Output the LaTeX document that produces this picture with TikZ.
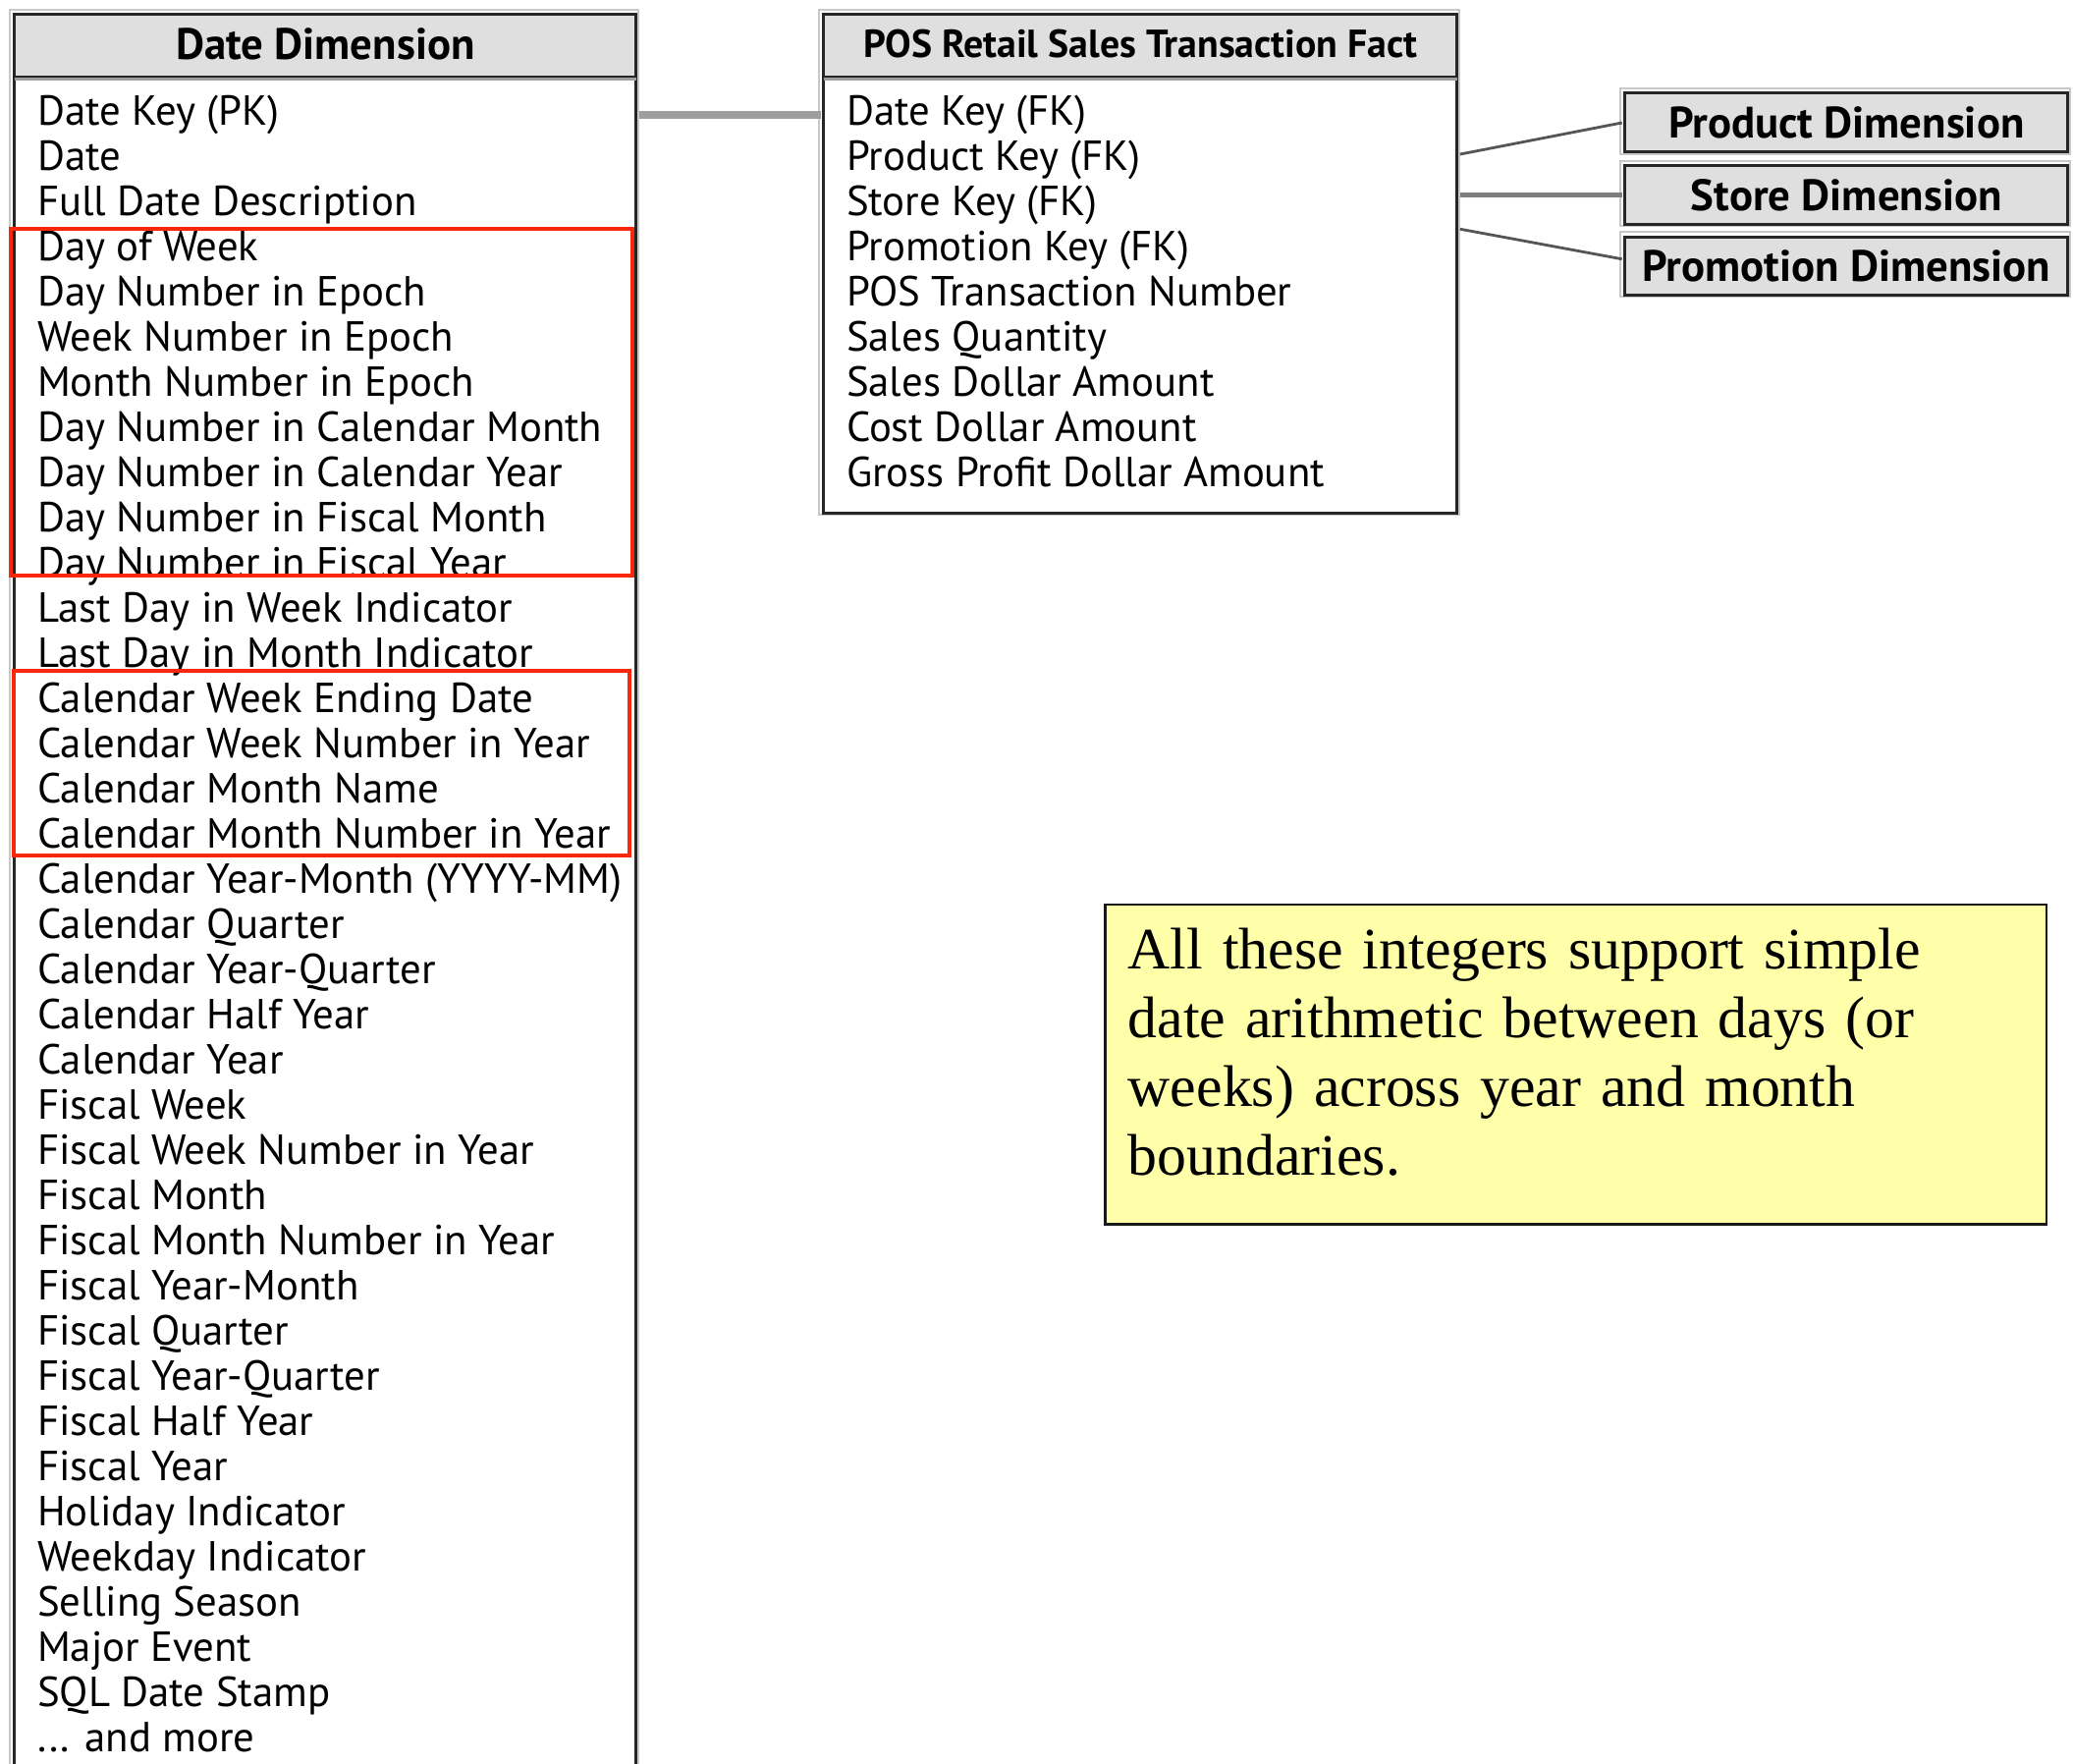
\documentclass[tikz,border=0pt]{standalone}
\usepackage{fontspec}
\usetikzlibrary{calc}
\newfontfamily\uifont{PT Sans}
\newfontfamily\notefont{Liberation Serif}
\definecolor{headgray}{RGB}{223,223,223}
\definecolor{halogray}{RGB}{200,200,200}
\definecolor{linkgray}{RGB}{158,158,158}
\definecolor{thingray}{RGB}{85,85,85}
\definecolor{hlred}{RGB}{250,40,10}
\definecolor{noteyellow}{RGB}{255,255,170}
\newcommand\andmoreitem{... and more}
\begin{document}
\begin{tikzpicture}[x=0.6732pt, y=-0.6732pt,
  box/.style={draw=black!85, line width=1.5pt, rectangle, inner sep=0pt, anchor=north west},
  headbox/.style={box, fill=headgray, font=\uifont\bfseries\fontsize{22.4}{23}\selectfont},
  bodybox/.style={box, fill=white},
  headtext/.style={inner sep=0pt, yshift=1pt},
  field/.style={anchor=base west, inner sep=0pt, font=\uifont\fontsize{21.4}{23}\selectfont},
  halo/.style={draw=halogray, line width=1pt},
  datelink/.style={draw=linkgray, line width=3.8pt, shorten <=0.8pt, shorten >=0.8pt},
  midlink/.style={draw=linkgray!80!black, line width=2.2pt, shorten <=0.8pt, shorten >=0.8pt},
  thinlink/.style={draw=thingray, line width=1.4pt, shorten <=0.8pt, shorten >=0.8pt},
  highlight/.style={draw=hlred, line width=2pt},
  notebox/.style={draw=black!90, line width=1.2pt, fill=noteyellow, anchor=north west,
    minimum width=479.3pt, minimum height=162.9pt, inner sep=0pt},
  notetext/.style={anchor=base west, inner sep=0pt, align=left, text width=470pt,
    font=\notefont\fontsize{29.9}{35}\selectfont}]
\useasboundingbox (0,0) rectangle (1568,1334);
\clip (0,0) rectangle (1568,1334);
\fill[white] (0,0) rectangle (1568,1334);

% soft outlines around the tables
\draw[halo] (7.5,7.5) rectangle (482.5,1340);
\draw[halo] (619.5,7.5) rectangle (1103.5,389.5);
\draw[halo] (1225.5,66.5) rectangle (1565.5,116.5);
\draw[halo] (1225.5,121.5) rectangle (1565.5,171);
\draw[halo] (1225.5,175.5) rectangle (1565.5,224.5);

% Date dimension table
\node[bodybox, minimum width=316.4pt, minimum height=875.2pt] (dateBody) at (10,57) {};
\node[headbox, minimum width=316.4pt, minimum height=31.64pt] (dateHead) at (10,10) {};
\node[headtext, font=\uifont\bfseries\fontsize{22.4}{23}\selectfont] (dateTitle) at (dateHead.center) {Date Dimension};
\draw[linkgray, line width=1.4pt] ($(dateBody.north west)+(1.2,2.6)$) -- ($(dateBody.north east)+(-1.2,2.6)$);

\foreach \txt [count=\i] in {Date Key (PK), Date, Full Date Description, Day of Week,
  Day Number in Epoch, Week Number in Epoch, Month Number in Epoch,
  Day Number in Calendar Month, Day Number in Calendar Year,
  Day Number in Fiscal Month, Day Number in Fiscal Year,
  Last Day in Week Indicator, Last Day in Month Indicator,
  Calendar Week Ending Date, Calendar Week Number in Year,
  Calendar Month Name, Calendar Month Number in Year,
  Calendar Year-Month (YYYY-MM), Calendar Quarter, Calendar Year-Quarter,
  Calendar Half Year, Calendar Year, Fiscal Week, Fiscal Week Number in Year,
  Fiscal Month, Fiscal Month Number in Year, Fiscal Year-Month, Fiscal Quarter,
  Fiscal Year-Quarter, Fiscal Half Year, Fiscal Year, Holiday Indicator,
  Weekday Indicator, Selling Season, Major Event, SQL Date Stamp, \andmoreitem}
  \node[field] (d\i) at (28, {94.5+(\i-1)*34.17}) {\txt};

% Fact table
\node[bodybox, minimum width=322.46pt, minimum height=222.16pt] (factBody) at (622,57) {};
\node[headbox, minimum width=322.46pt, minimum height=31.64pt] (factHead) at (622,10) {};
\node[headtext, font=\uifont\bfseries\fontsize{19.9}{23}\selectfont] (factTitle) at (factHead.center) {POS Retail Sales Transaction Fact};
\draw[linkgray, line width=1.4pt] ($(factBody.north west)+(1.2,2.6)$) -- ($(factBody.north east)+(-1.2,2.6)$);

\foreach \txt [count=\i] in {Date Key (FK), Product Key (FK), Store Key (FK),
  Promotion Key (FK), POS Transaction Number, Sales Quantity,
  Sales Dollar Amount, Cost Dollar Amount, Gross Profit Dollar Amount}
  \node[field] (f\i) at (640, {94.5+(\i-1)*34.17}) {\txt};

% Other dimensions
\node[headbox, minimum width=225.52pt, minimum height=30.29pt] (prodDim) at (1228,69) {Product Dimension};
\node[headbox, minimum width=225.52pt, minimum height=29.96pt] (storeDim) at (1228,124) {Store Dimension};
\node[headbox, minimum width=225.52pt, minimum height=29.62pt] (promoDim) at (1228,178) {Promotion Dimension};

% Joins
\draw[datelink] (dateBody.east |- d1) -- (factBody.west |- d1);
\draw[thinlink] ($(factBody.east |- f2)+(0,-4)$) -- (prodDim.west);
\draw[midlink] (storeDim.west -| factBody.east) -- (storeDim.west);
\draw[thinlink] ($(factBody.east |- f3)+(0,18)$) -- ($(promoDim.west)+(0,-5)$);

% Highlighted attribute groups
\draw[highlight] (8,173) rectangle (478,435);
\draw[highlight] (10.5,507) rectangle (476,647);

% Note
\node[notebox] (note) at (835,683) {};
\node[notetext] (noteText) at (853,732.5) {All these integers support simple\\
date arithmetic between days (or\\
weeks) across year and month\\
boundaries.};
\end{tikzpicture}
\end{document}
